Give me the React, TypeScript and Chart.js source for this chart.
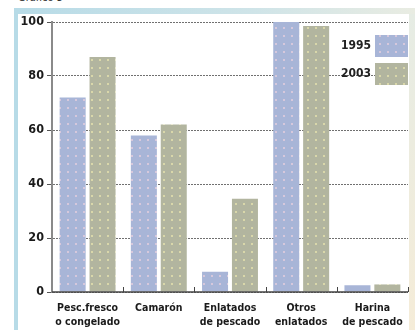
import React, { useEffect, useRef } from "react";
import { Chart, registerables } from "chart.js";

Chart.register(...registerables);

// Export categories (two-line labels) and shares for each year
const categories: string[][] = [
  ["Pesc.fresco", "o congelado"],
  ["Camarón"],
  ["Enlatados", "de pescado"],
  ["Otros", "enlatados"],
  ["Harina", "de pescado"],
];
const values1995: number[] = [72, 58, 7.5, 100, 2.5];
const values2003: number[] = [87, 62, 34.5, 98.5, 2.8];
const yTicks: number[] = [0, 20, 40, 60, 80, 100];

const FONT = "'DejaVu Sans Condensed', 'DejaVu Sans', sans-serif";

function dotPattern(base: string, dot: string): CanvasPattern | string {
  const c = document.createElement("canvas");
  c.width = 8;
  c.height = 8;
  const g = c.getContext("2d");
  if (!g) return base;
  g.fillStyle = base;
  g.fillRect(0, 0, 8, 8);
  g.fillStyle = dot;
  g.fillRect(3, 3, 2, 2);
  const p = g.createPattern(c, "repeat");
  return p || base;
}

const legendPlugin = {
  id: "sideLegend",
  afterDraw(chart: any) {
    const ctx = chart.ctx;
    ctx.save();
    ctx.font = `bold 12px ${FONT}`;
    ctx.fillStyle = "#222";
    ctx.textAlign = "right";
    ctx.textBaseline = "middle";
    chart.data.datasets.forEach((ds: any, i: number) => {
      const y = 35 + i * 28;
      ctx.fillText(ds.label, 371, y + 11);
      ctx.fillStyle = ds.backgroundColor;
      ctx.fillRect(375, y, 33, 22);
      ctx.fillStyle = "#222";
    });
    ctx.restore();
  },
};

const baseTicksPlugin = {
  id: "baseTicks",
  afterDatasetsDraw(chart: any) {
    const ctx = chart.ctx;
    const x = chart.scales.x;
    const yb = chart.scales.y.getPixelForValue(0);
    ctx.save();
    ctx.strokeStyle = "#444";
    ctx.lineWidth = 1;
    for (let i = 0; i < categories.length; i++) {
      const half = (x.getPixelForValue(1) - x.getPixelForValue(0)) / 2;
      const px = Math.round(x.getPixelForValue(i) + half) + 0.5;
      ctx.beginPath();
      ctx.moveTo(px, yb);
      ctx.lineTo(px, yb - 5);
      ctx.stroke();
    }
    ctx.beginPath();
    ctx.lineWidth = 1.5;
    ctx.moveTo(chart.chartArea.left, yb);
    ctx.lineTo(chart.chartArea.right, yb);
    ctx.stroke();
    ctx.restore();
  },
};

export default function App() {
  const ref = useRef<HTMLCanvasElement>(null);

  useEffect(() => {
    if (!ref.current) return;
    const blue = dotPattern("#a8b5d7", "#d6c8dc");
    const green = dotPattern("#b2b59f", "#d9d7aa");
    const chart = new Chart(ref.current, {
      type: "bar",
      data: {
        labels: categories,
        datasets: [
          { label: "1995", data: values1995, backgroundColor: blue as any },
          { label: "2003", data: values2003, backgroundColor: green as any },
        ],
      },
      options: {
        animation: false,
        responsive: false,
        devicePixelRatio: 1,
        layout: { padding: { left: 0, right: 7, top: 22, bottom: 0 } },
        datasets: {
          bar: { categoryPercentage: 0.84, barPercentage: 0.87 },
        },
        plugins: {
          legend: { display: false },
          tooltip: { enabled: false },
        },
        scales: {
          x: {
            grid: { display: false },
            border: { display: false },
            ticks: {
              color: "#1a1a1a",
              font: { family: FONT, size: 10.5, weight: "bold", lineHeight: 1.35 },
              padding: 1,
              maxRotation: 0,
              autoSkip: false,
            },
            afterFit(scale: any) {
              scale.height = 38;
            },
          },
          y: {
            min: 0,
            max: 100,
            afterBuildTicks(scale: any) {
              scale.ticks = yTicks.map((v) => ({ value: v }));
            },
            grid: {
              color: "#707070",
              lineWidth: 1,
              tickLength: 5,
              tickColor: "#555",
              tickBorderDash: [],
            },
            border: { display: true, color: "#8a8a8a", width: 2, dash: [2, 1] },
            ticks: {
              color: "#1a1a1a",
              font: { family: FONT, size: 12.5, weight: "bold" },
              padding: 3,
            },
            afterFit(scale: any) {
              scale.width = 52;
            },
          },
        },
      },
      plugins: [legendPlugin, baseTicksPlugin],
    });
    return () => chart.destroy();
  }, []);

  return (
    <div
      style={{
        position: "fixed",
        left: 0,
        top: 0,
        width: 415,
        height: 330,
        background: "#fff",
        overflow: "hidden",
      }}
    >
      <div
        style={{
          position: "absolute",
          left: 18,
          top: -9,
          font: `11px ${FONT}`,
          color: "#333",
        }}
      >
        Gráfico 5
      </div>
      <div
        style={{
          position: "absolute",
          left: 14,
          top: 8,
          width: 401,
          height: 6,
          background: "linear-gradient(to right, #b7dbe7, #cfe4e8 60%, #e9ece2)",
        }}
      />
      <div
        style={{
          position: "absolute",
          left: 14,
          top: 8,
          width: 4,
          height: 322,
          background: "#b7dbe7",
        }}
      />
      <div
        style={{
          position: "absolute",
          left: 409,
          top: 14,
          width: 6,
          height: 316,
          background: "linear-gradient(to bottom, #e6ece4, #f5ecd8)",
        }}
      />
      <canvas
        ref={ref}
        width={415}
        height={330}
        style={{ position: "absolute", left: 0, top: 0 }}
      />
    </div>
  );
}
